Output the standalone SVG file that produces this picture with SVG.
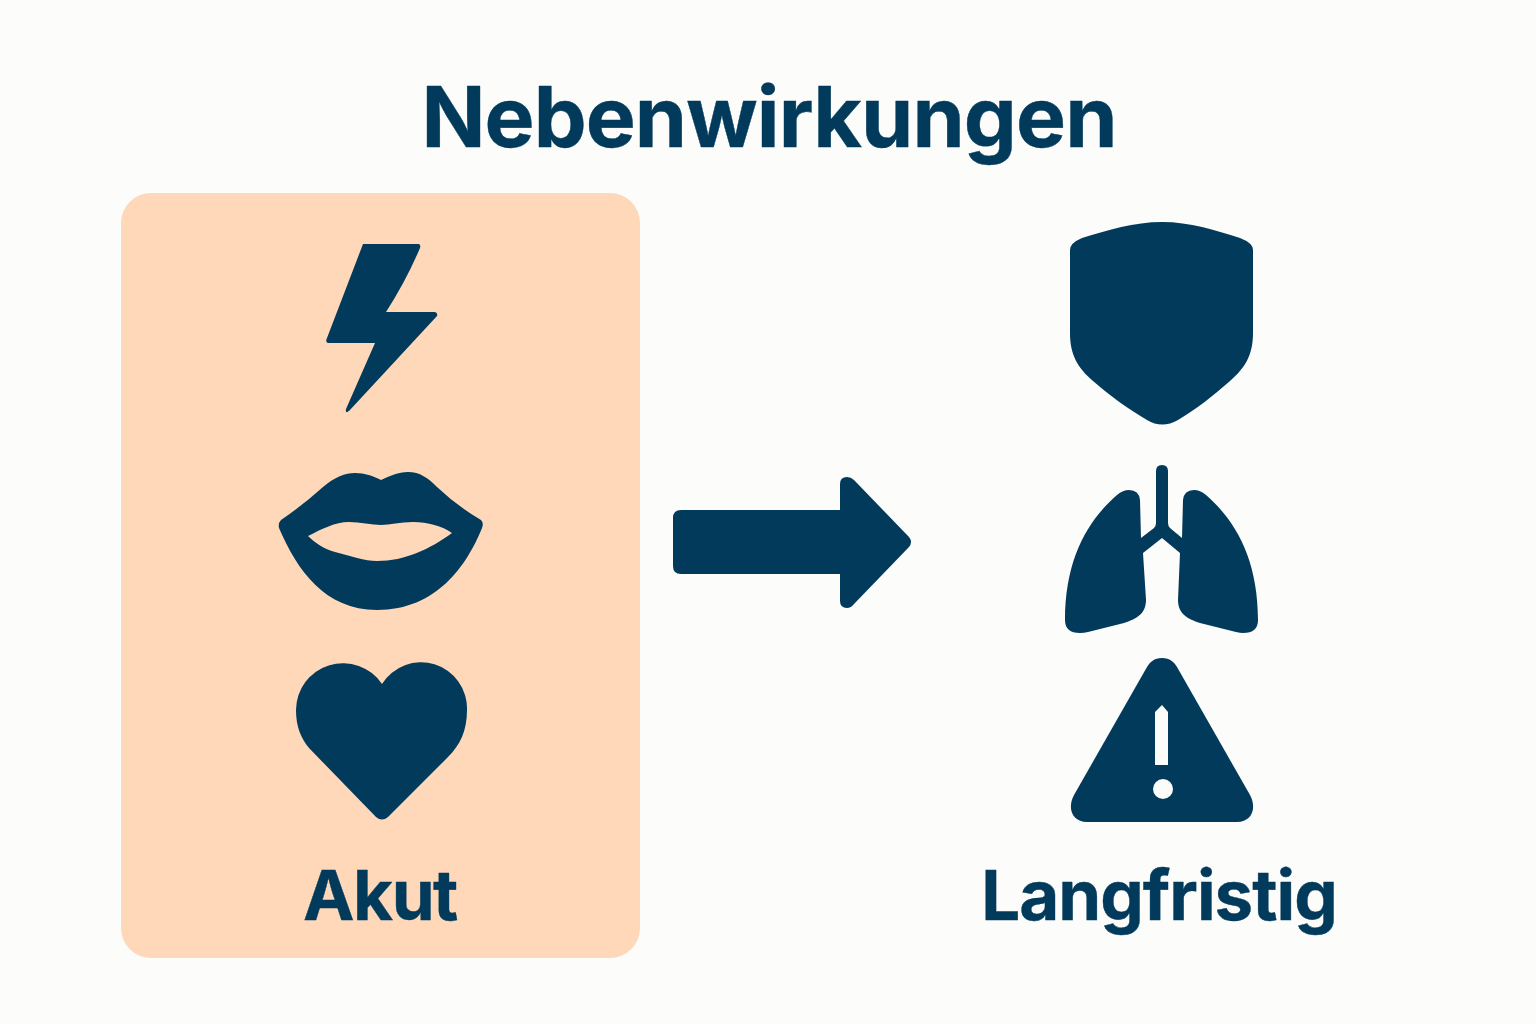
<svg xmlns="http://www.w3.org/2000/svg" width="1536" height="1024" viewBox="0 0 1536 1024">
<style>
.i{fill:#023a5c}
.t{fill:#023a5c;font-family:"Inter","Liberation Sans",sans-serif;font-weight:700;text-anchor:middle;stroke:#023a5c;stroke-width:0.4;stroke-linejoin:round}
.h{fill:#fcfcfa}
.p{fill:#fed8b9}
</style>
<rect width="1536" height="1024" fill="#fcfcfa"/>
<text id="title" class="t" x="769" y="147" font-size="84" letter-spacing="-0.9">Nebenwirkungen</text>
<g id="akut">
<rect class="p" x="121" y="193" width="519" height="765" rx="30"/>
<text class="t" x="380" y="920" font-size="69" letter-spacing="-1.5">Akut</text>
</g>
<g id="bolt"><path class="i" d="M363 244H419Q421 245 420 248Q406 281 386 312H435Q438 313 437 316L349 411Q345 414 346 409L375 343H328Q325 342 327 338Z"/></g>
<g id="lips">
<path class="i" d="M281 520Q303 505 323 487C335 477 345 473 355 473C365 473 373 476 381 480C390 476 398 472 408 472C420 472 428 478 437 487Q457 506 481 520Q484 523 482 528C467 565 437 610 377 610C325 610 297 570 279 528Q278 523 281 520Z"/>
<path class="p" d="M308 536C322 529 335 522 349 522C360 522 372 525 381 525C390 525 400 522 413 522C428 522 442 526 452 533C430 549 405 561 377 561C365 561 350 556 335 552C324 549 315 543 308 536Z"/>
</g>
<g id="heart"><path class="i" d="M382 684A47 47 0 0 0 296 710C296 727 301 738 309 748L376 817Q382 822 388 817L448 757C460 745 467 731 467 710A46 46 0 0 0 382 684Z"/></g>
<g id="arrow"><path class="i" d="M681 510H840V484Q840 477 847 477Q851 477 854 480L909 537Q913 542 909 547L854 604Q851 608 847 608Q840 608 840 601V574H681Q673 574 673 566V518Q673 510 681 510Z"/></g>
<g id="shield"><path class="i" d="M1162 222C1190 222 1215 230 1240 238Q1253 243 1253 250V333C1253 355 1245 368 1230 381C1213 396 1195 410 1178 420Q1162 429 1147 420C1130 410 1110 396 1093 381C1078 368 1070 355 1070 333V250Q1070 243 1082 238C1108 230 1134 222 1162 222Z"/></g>
<g id="lungs">
<path class="i" d="M1156 471Q1156 465 1162 465Q1168 465 1168 471V523Q1168 526 1170 528L1182 538L1183 500Q1184 490 1194 490Q1200 490 1206 495C1236 521 1258 560 1258 620Q1258 633 1243 633Q1240 633 1236 632L1200 623C1188 619 1178 614 1178 600L1180 553L1162 538L1143 553L1146 600C1146 614 1136 619 1124 623L1088 632Q1084 633 1080 633Q1065 633 1065 620C1065 560 1087 521 1117 495Q1123 490 1129 490Q1139 490 1140 500L1141 538L1154 528Q1156 526 1156 523Z"/>
</g>
<g id="warning">
<path class="i" d="M1162 658C1170 658 1174 662 1177 667L1250 795C1257 808 1252 822 1237 822H1087C1072 822 1067 808 1074 795L1147 667C1150 662 1154 658 1162 658Z"/>
<path class="h" d="M1162 705L1168 712V765H1155V712Z"/>
<circle class="h" cx="1163" cy="789" r="10"/>
</g>
<text id="langfristig" class="t" x="1159" y="920" font-size="69" letter-spacing="-1">Langfristig</text>
</svg>
